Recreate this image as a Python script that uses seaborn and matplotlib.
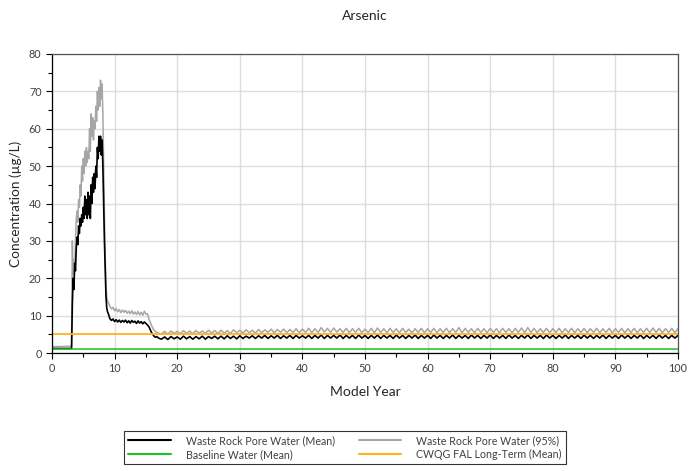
import numpy as np
import pandas as pd
import matplotlib
matplotlib.use("Agg")
import matplotlib.pyplot as plt
from matplotlib.lines import Line2D
from matplotlib.ticker import MultipleLocator
import seaborn as sns

# Valores (concentração de arsênio, µg/L)
anos_inicio = [0.0, 3.125]
media_inicio = [1.2, 1.2]
p95_inicio = [1.7, 1.8]

# pico inicial, passo de 0.125 ano (3.25 a 9.0)
anos_pico = np.arange(3.25, 9.0 + 1e-9, 0.125)
media_pico = [13, 20, 17, 24, 22, 28, 31, 29, 34, 32, 36, 34, 37, 35, 39, 36,
              42, 37, 41, 36, 43, 37, 42, 36, 45, 40, 47, 43, 48, 44, 50, 47,
              55, 52, 58, 54, 58, 53, 57, 50, 40, 30, 22, 15, 12, 11, 10.5]
p95_pico = [30, 21, 25, 22, 30, 36, 38, 35, 41, 39, 45, 42, 50, 46, 52, 48,
            54, 50, 55, 51, 54, 52, 60, 54, 64, 58, 63, 57, 62, 60, 66, 62,
            70, 65, 71, 66, 73, 68, 72, 64, 50, 37, 25, 18, 15, 14, 13.5]

# patamar, passo de 0.25 ano (9.25 a 17.0)
anos_patamar = np.arange(9.25, 17.0 + 1e-9, 0.25)
media_patamar = [9.2, 8.7, 9.1, 8.4, 8.9, 8.3, 8.8, 8.2, 8.7, 8.3, 8.8, 8.1,
                 8.6, 8.0, 8.7, 8.2, 8.5, 7.9, 8.6, 8.0, 8.4, 7.8, 8.3, 7.9,
                 7.5, 7.0, 6.0, 5.2, 4.6, 4.2, 4.4, 4.0]
p95_patamar = [12.5, 11.8, 12.2, 11.3, 11.9, 11.0, 11.6, 10.8, 11.5, 10.9,
               11.4, 10.6, 11.2, 10.5, 11.3, 10.4, 11.0, 10.3, 11.1, 10.2,
               10.9, 10.1, 11.2, 10.4, 10.5, 9.0, 8.0, 7.0, 6.2, 5.8, 5.5, 5.3]

# longo prazo, passo de 0.5 ano (17.5 a 100)
anos_longo = np.arange(17.5, 100.0 + 1e-9, 0.5)
media_longo = [
    3.7, 4.3, 3.6, 4.4, 3.8, 4.3, 3.7, 4.5, 3.8, 4.4,
    3.7, 4.4, 3.8, 4.5, 3.7, 4.4, 3.9, 4.5, 3.8, 4.5,
    3.8, 4.6, 3.9, 4.5, 3.8, 4.6, 3.9, 4.5, 4.0, 4.6,
    3.9, 4.6, 4.0, 4.7, 3.9, 4.6, 4.0, 4.7, 3.9, 4.6,
    4.0, 4.7, 3.9, 4.7, 4.0, 4.6, 4.0, 4.7, 3.9, 4.7,
    4.0, 4.8, 3.9, 4.7, 4.0, 4.7, 4.0, 4.8, 3.9, 4.7,
    4.0, 4.7, 3.9, 4.8, 4.0, 4.7, 3.9, 4.7, 4.0, 4.8,
    3.9, 4.7, 4.0, 4.7, 3.9, 4.8, 4.0, 4.7, 3.9, 4.7,
    4.0, 4.8, 3.9, 4.7, 4.0, 4.7, 3.9, 4.8, 4.0, 4.7,
    3.9, 4.7, 4.0, 4.8, 3.9, 4.7, 4.0, 4.7, 3.9, 4.8,
    4.0, 4.7, 3.9, 4.7, 4.0, 4.8, 3.9, 4.7, 4.0, 4.7,
    3.9, 4.8, 4.0, 4.7, 3.9, 4.7, 4.0, 4.8, 3.9, 4.7,
    4.0, 4.7, 3.9, 4.8, 4.0, 4.7, 3.9, 4.7, 4.0, 4.8,
    3.9, 4.7, 4.0, 4.7, 3.9, 4.8, 4.0, 4.7, 3.9, 4.7,
    4.0, 4.8, 3.9, 4.7, 4.0, 4.7, 3.9, 4.8, 4.0, 4.7,
    3.9, 4.7, 4.0, 4.8, 3.9, 4.7, 4.0, 4.7, 3.9, 4.8,
    4.0, 4.7, 3.9, 4.7, 4.0, 4.7]
p95_longo = [
    5.1, 5.8, 5.0, 5.9, 5.2, 5.8, 5.1, 6.0, 5.2, 5.9,
    5.1, 6.0, 5.3, 5.9, 5.2, 6.1, 5.3, 6.0, 5.2, 6.1,
    5.3, 6.0, 5.2, 6.2, 5.4, 6.1, 5.3, 6.2, 5.4, 6.1,
    5.3, 6.3, 5.4, 6.2, 5.5, 6.4, 5.4, 6.3, 5.5, 6.4,
    5.4, 6.3, 5.5, 6.5, 5.4, 6.4, 5.5, 6.6, 5.4, 6.5,
    5.5, 6.8, 5.6, 6.6, 5.5, 6.7, 5.6, 6.5, 5.5, 6.6,
    5.4, 6.5, 5.5, 6.6, 5.4, 6.4, 5.5, 6.6, 5.4, 6.7,
    5.5, 6.5, 5.4, 6.6, 5.5, 6.5, 5.4, 6.6, 5.5, 6.4,
    5.4, 6.5, 5.5, 6.6, 5.4, 6.5, 5.5, 6.6, 5.4, 6.5,
    5.5, 6.6, 5.4, 6.5, 5.5, 6.8, 5.4, 6.6, 5.5, 6.5,
    5.4, 6.6, 5.5, 6.5, 5.4, 6.6, 5.5, 6.5, 5.4, 6.6,
    5.5, 6.5, 5.4, 6.6, 5.5, 6.7, 5.4, 6.8, 5.5, 6.6,
    5.4, 6.5, 5.5, 6.6, 5.4, 6.5, 5.5, 6.6, 5.4, 6.5,
    5.5, 6.6, 5.4, 6.5, 5.5, 6.6, 5.4, 6.5, 5.5, 6.6,
    5.4, 6.5, 5.5, 6.6, 5.4, 6.5, 5.5, 6.6, 5.4, 6.5,
    5.5, 6.6, 5.4, 6.5, 5.5, 6.6, 5.4, 6.7, 5.5, 6.6,
    5.4, 6.5, 5.5, 6.6, 5.4, 6.6]

anos_ref = [0.0, 100.0]
baseline = [1.0, 1.0]
cwqg = [5.0, 5.0]

series = ["Waste Rock Pore Water (Mean)", "Waste Rock Pore Water (95%)",
          "Baseline Water (Mean)", "CWQG FAL Long-Term (Mean)"]
cores = ["#000000", "#a6a6a6", "#1fc21f", "#ffb31a"]

anos = np.concatenate([anos_inicio, anos_pico, anos_patamar, anos_longo])
media = np.concatenate([media_inicio, media_pico, media_patamar, media_longo])
p95 = np.concatenate([p95_inicio, p95_pico, p95_patamar, p95_longo])
assert len(anos) == len(media) == len(p95)

df = pd.concat([
    pd.DataFrame({"Ano": anos, "Conc": p95, "Serie": series[1]}),
    pd.DataFrame({"Ano": anos, "Conc": media, "Serie": series[0]}),
    pd.DataFrame({"Ano": anos_ref, "Conc": baseline, "Serie": series[2]}),
    pd.DataFrame({"Ano": anos_ref, "Conc": cwqg, "Serie": series[3]}),
])

sns.set_style("white")
plt.rcParams["font.family"] = ["Lato", "DejaVu Sans"]

fig = plt.figure(figsize=(6.9, 4.71), dpi=100)
ax = fig.add_axes([52 / 690, 118 / 471, 626 / 690, 299 / 471])

larguras = {series[0]: 1.2, series[1]: 1.1, series[2]: 1.1, series[3]: 1.3}
for nome in [series[1], series[0], series[2], series[3]]:
    sub = df[df["Serie"] == nome]
    sns.lineplot(data=sub, x="Ano", y="Conc", ax=ax, color=cores[series.index(nome)],
                 lw=larguras[nome], estimator=None, sort=False, legend=False)

ax.set_xlim(0, 100)
ax.set_ylim(0, 80)
ax.xaxis.set_major_locator(MultipleLocator(10))
ax.xaxis.set_minor_locator(MultipleLocator(5))
ax.yaxis.set_major_locator(MultipleLocator(10))
ax.yaxis.set_minor_locator(MultipleLocator(5))
ax.grid(True, which="major", color="#dedede", lw=1)
ax.tick_params(which="major", direction="out", length=4, width=0.8, labelsize=7.8,
               colors="#000000", labelcolor="#404040", left=True, bottom=True)
ax.tick_params(which="minor", direction="out", length=3, width=0.8,
               colors="#000000", left=True, bottom=True)
for lado in ["left", "bottom"]:
    ax.spines[lado].set_color("#000000")
for lado in ["top", "right"]:
    ax.spines[lado].set_color("#555555")
for s in ax.spines.values():
    s.set_linewidth(0.9)

ax.set_xlabel("Model Year", fontsize=10, color="#262626", labelpad=8)
ax.set_ylabel("Concentration (\u00b5g/L)", fontsize=9.8, color="#262626", labelpad=5)
fig.text(365 / 690, 1 - 16 / 471, "Arsenic", ha="center", va="center",
         fontsize=10, color="#262626")

handles = [Line2D([], [], color=cores[0], lw=1.5),
           Line2D([], [], color=cores[2], lw=1.5),
           Line2D([], [], color=cores[1], lw=1.5),
           Line2D([], [], color=cores[3], lw=1.5)]
labels = [series[0], series[2], series[1], series[3]]
leg = fig.legend(handles, labels, ncol=2, loc="center",
                 bbox_to_anchor=(345 / 690, 1 - 447.5 / 471), fontsize=7.7,
                 frameon=True, fancybox=False, edgecolor="#000000",
                 handlelength=4.0, handletextpad=1.4, columnspacing=2.2,
                 labelspacing=0.25, borderpad=0.35)
leg.get_frame().set_linewidth(0.8)
for t in leg.get_texts():
    t.set_color("#404040")

fig.savefig("out.png", dpi=100)
